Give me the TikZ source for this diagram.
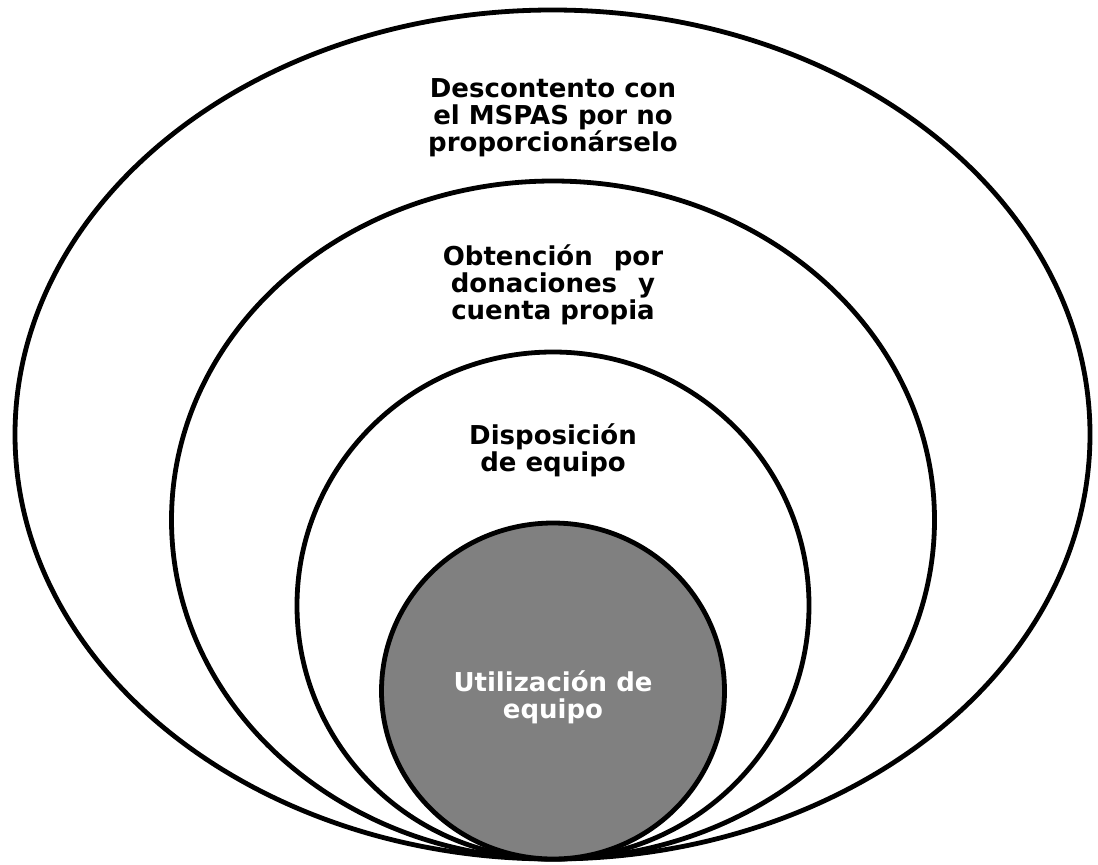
\documentclass[tikz,border=0pt]{standalone}
\usepackage{fontspec}
\setmainfont{DejaVu Sans}
\begin{document}
\begin{tikzpicture}[x=1pt,y=-1pt,
  ring/.style={draw=black,line width=4.8pt},
  lbl/.style={font=\bfseries\fontsize{26}{27}\selectfont,align=center,inner sep=0pt}]
\path[use as bounding box] (0,0) rectangle (1098,865);
\coordinate (c1) at (552.5,434.5);
\coordinate (c2) at (553,520);
\coordinate (c3) at (553,605.5);
\coordinate (c4) at (553,691);
\draw[ring,fill=white] (c1) ellipse [x radius=537.5pt, y radius=424.5pt];
\draw[ring,fill=white] (c2) ellipse [x radius=381.5pt, y radius=339pt];
\draw[ring,fill=white] (c3) ellipse [x radius=256pt, y radius=253.5pt];
\draw[ring,fill={rgb,255:red,128;green,128;blue,128}] (c4) ellipse [x radius=171.5pt, y radius=168pt];
\node[lbl] (t1) at (553,118) {Descontento con\\el MSPAS por no\\proporcionárselo};
\node[lbl] (t2) at (553,284.5) {Obtención\hspace{12pt} por\\donaciones\hspace{12pt} y\\cuenta propia};
\node[lbl] (t3) at (553,450) {Disposición\\de equipo};
\node[lbl,text=white] (t4) at (553,697.5) {Utilización de\\equipo};
\end{tikzpicture}
\end{document}
